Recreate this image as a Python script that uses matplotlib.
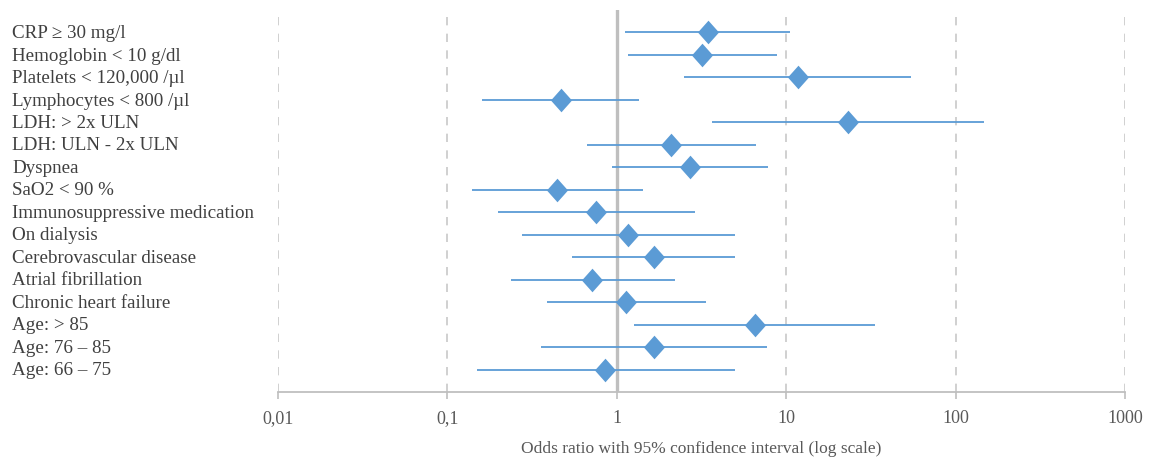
import matplotlib
matplotlib.use("Agg")
import matplotlib.pyplot as plt
from matplotlib.transforms import blended_transform_factory

labels = ["CRP \u2265 30 mg/l", "Hemoglobin < 10 g/dl", "Platelets < 120,000 /\u00b5l",
          "Lymphocytes < 800 /\u00b5l", "LDH: > 2x ULN", "LDH: ULN - 2x ULN", "Dyspnea",
          "SaO2 < 90 %", "Immunosuppressive medication", "On dialysis",
          "Cerebrovascular disease", "Atrial fibrillation", "Chronic heart failure",
          "Age: > 85", "Age: 76 \u2013 85", "Age: 66 \u2013 75"]
odds = [3.44, 3.20, 11.7, 0.469, 23.3, 2.09, 2.72, 0.441, 0.758, 1.17, 1.65, 0.716, 1.14, 6.50, 1.65, 0.855]
lower = [1.12, 1.16, 2.48, 0.159, 3.65, 0.666, 0.94, 0.139, 0.199, 0.277, 0.546, 0.237, 0.387, 1.26, 0.356, 0.149]
upper = [10.5, 8.85, 54.9, 1.36, 148, 6.61, 7.85, 1.42, 2.91, 4.96, 4.96, 2.21, 3.37, 33.4, 7.69, 4.99]
xticks = [0.01, 0.1, 1, 10, 100, 1000]
xticklabels = ["0,01", "0,1", "1", "10", "100", "1000"]

plt.rcParams['font.family'] = ['Liberation Serif', 'DejaVu Serif']

W, H = 1150, 458
fig = plt.figure(figsize=(W / 100, H / 100), dpi=100)
ax = fig.add_axes([278 / W, 1 - 392 / H, (1125 - 278) / W, (392 - 10) / H])

blue = "#5B9BD5"
grey = "#BFBFBF"
ypos = list(range(1, len(labels) + 1))

ax.set_xscale("log")
ax.set_xlim(0.01, 1000)
ax.set_ylim(17, 0)

for t in xticks:
    if t == 1:
        ax.axvline(t, color=grey, lw=2.4, zorder=1)
    else:
        ax.axvline(t, color="#C8C8C8", lw=1.2, ls=(0, (5, 5)), zorder=0)

ax.hlines(ypos, lower, upper, color=blue, lw=1.3, zorder=2)
ax.plot(odds, ypos, ls="none", marker=[(0, 1.12), (1, 0), (0, -1.12), (-1, 0), (0, 1.12)],
        markersize=17, color=blue, markeredgewidth=0, zorder=3)

for s in ["top", "right", "left"]:
    ax.spines[s].set_visible(False)
ax.spines["bottom"].set_color(grey)
ax.spines["bottom"].set_linewidth(1.3)
ax.set_yticks([])
ax.set_xticks(xticks)
ax.set_xticklabels(xticklabels)
ax.minorticks_off()
ax.tick_params(axis="x", colors=grey, length=5, width=1.2, pad=8, labelsize=13, labelcolor="#595959")
ax.set_xlabel("Odds ratio with 95% confidence interval (log scale)", fontsize=12.5, color="#595959", labelpad=10)

tr = blended_transform_factory(fig.transFigure, ax.transData)
for y, lab in zip(ypos, labels):
    ax.text(12 / W, y + 0.05, lab, transform=tr, ha="left", va="center", fontsize=13.7, color="#404040")

fig.savefig("out.png", dpi=100)
